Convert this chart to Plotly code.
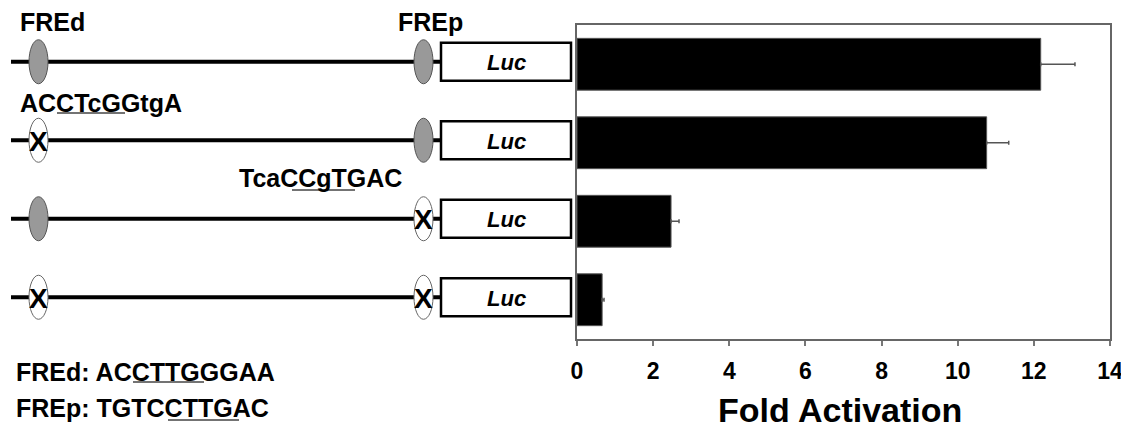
import plotly.graph_objects as go

# ---------------- data ----------------
constructs = ["FREd+FREp", "mFREd+FREp", "FREd+mFREp", "mFREd+mFREp"]
fold_activation = [12.18, 10.76, 2.47, 0.66]
fold_error = [0.90, 0.58, 0.21, 0.05]
fred_mutated = [False, True, False, True]
frep_mutated = [False, False, True, True]
x_ticks = [0, 2, 4, 6, 8, 10, 12, 14]

# page offset of the plot div (default body margin)
OX, OY = 8, 8
W, H = 1129 - OX, 430 - OY
FONT = "Liberation Sans, Arial, sans-serif"

# plot area in page pixels
PX0, PX1 = 577, 1110
PY0, PY1 = 25, 339


def px(x):
    return (x - OX) / W


def py(y):
    return 1 - (y - OY) / H


n = len(constructs)
row_h = (PY1 - PY0) / n


def row_center(i):
    return PY0 + (i + 0.5) * row_h - 2.5


fig = go.Figure()
fig.add_trace(go.Bar(
    x=fold_activation, y=list(range(n)), orientation="h", width=0.66,
    marker=dict(color="black", line=dict(color="#555", width=1)),
    error_x=dict(type="data", array=fold_error, symmetric=False,
                 arrayminus=[0] * n, color="#555", thickness=1.5, width=2),
    hoverinfo="skip", showlegend=False,
))

shapes = []
annotations = []

for i in range(n):
    yc = row_center(i)
    # backbone line
    shapes.append(dict(type="line", xref="paper", yref="paper",
                       x0=px(11), x1=px(441), y0=py(yc), y1=py(yc),
                       line=dict(color="black", width=4), layer="above"))
    # elements (FREd, FREp)
    for cx, mut in ((38.5, fred_mutated[i]), (423.5, frep_mutated[i])):
        shapes.append(dict(type="circle", xref="paper", yref="paper",
                           x0=px(cx - 9.5), x1=px(cx + 9.5),
                           y0=py(yc + 22), y1=py(yc - 22),
                           fillcolor="white" if mut else "#999999",
                           line=dict(color="#555" if not mut else "#666", width=1),
                           layer="above"))
        if mut:
            annotations.append(dict(x=px(cx), y=py(yc + 1), xref="paper", yref="paper",
                                    text="<b>X</b>", showarrow=False,
                                    xanchor="center", yanchor="middle",
                                    font=dict(family=FONT, size=28, color="black")))
    # Luc box
    shapes.append(dict(type="rect", xref="paper", yref="paper",
                       x0=px(441), x1=px(571), y0=py(yc + 19), y1=py(yc - 19),
                       fillcolor="white", line=dict(color="black", width=2.5),
                       layer="above"))
    annotations.append(dict(x=px(506), y=py(yc + 1), xref="paper", yref="paper",
                            text="<b><i>Luc</i></b>", showarrow=False,
                            xanchor="center", yanchor="middle",
                            font=dict(family=FONT, size=22, color="black")))

# text labels: (text, left x, center y, underline x0, x1, underline y)
labels = [
    ("FREd", 18, 22, None, None, None),
    ("FREp", 396, 22, None, None, None),
    ("ACCTcGGtgA", 18, 103, 57, 125, 113),
    ("TcaCCgTGAC", 237, 178, 292, 355, 190),
    ("FREd: ACCTTGGGAA", 14, 372, 133, 204, 382),
    ("FREp: TGTCCTTGAC", 14, 408, 168, 239, 420),
]
for txt, lx, cy, u0, u1, uy in labels:
    annotations.append(dict(x=px(lx), y=py(cy), xref="paper", yref="paper",
                            text=f"<b>{txt}</b>", showarrow=False,
                            xanchor="left", yanchor="middle",
                            font=dict(family=FONT, size=25, color="black")))
    if u0 is not None:
        shapes.append(dict(type="line", xref="paper", yref="paper",
                           x0=px(u0), x1=px(u1), y0=py(uy), y1=py(uy),
                           line=dict(color="#444", width=1.3), layer="above"))

# axis title
annotations.append(dict(x=px(840), y=py(410), xref="paper", yref="paper",
                        text="<b>Fold Activation</b>", showarrow=False,
                        xanchor="center", yanchor="middle",
                        font=dict(family=FONT, size=34, color="black")))

fig.update_layout(
    width=W, height=H,
    margin=dict(l=0, r=0, t=0, b=0),
    paper_bgcolor="white", plot_bgcolor="white",
    shapes=shapes, annotations=annotations,
    xaxis=dict(domain=[px(PX0), px(PX1)], range=[0, 14], tickvals=x_ticks,
               ticktext=[f"<b>{t}</b>" for t in x_ticks],
               ticks="outside", ticklen=5, tickwidth=1.5, tickcolor="#777",
               showline=True, linecolor="#666", linewidth=2, mirror=True,
               showgrid=False, zeroline=False, automargin=False,
               tickfont=dict(family=FONT, size=23, color="black"),
               ticklabelstandoff=5, fixedrange=True),
    yaxis=dict(domain=[py(PY1), py(PY0)], range=[n - 0.5, -0.5],
               showticklabels=False, ticks="", showline=True, linecolor="#666",
               linewidth=2, mirror=True, showgrid=False, zeroline=False,
               automargin=False, fixedrange=True),
    bargap=0.34,
)

fig.write_html("out.html")
